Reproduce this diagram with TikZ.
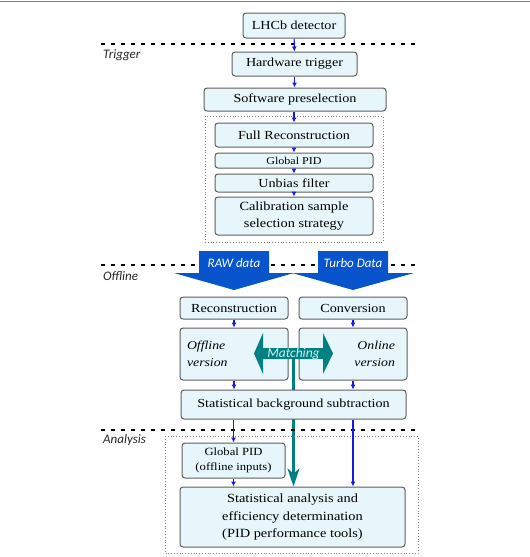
\documentclass[tikz,border=0pt]{standalone}
\usepackage{fontspec}
\setmainfont[FakeStretch=1.15]{Liberation Serif}
\newfontfamily\labfont{Carlito}
\usetikzlibrary{arrows.meta,calc}
\definecolor{boxfill}{RGB}{230,246,251}
\definecolor{bord}{RGB}{95,95,95}
\definecolor{arrblue}{RGB}{25,25,230}
\definecolor{bigblue}{RGB}{8,84,204}
\definecolor{tealc}{RGB}{0,128,128}
\definecolor{matchtxt}{RGB}{205,240,240}
\pgfdeclarelayer{bg}
\pgfsetlayers{bg,main}
\tikzset{
  box/.style={draw=bord, fill=boxfill, rounded corners=3pt, line width=1pt, inner sep=0pt, align=center, font=\fontsize{12.3}{16}\selectfont},
  barrow/.style={draw=arrblue, line width=1.1pt, -{Latex[length=5pt,width=5pt]}},
  sep/.style={line width=2pt, dash pattern=on 4pt off 6pt, black},
  dotbox/.style={draw=gray, line width=0.8pt, dash pattern=on 0.8pt off 2pt},
  seclabel/.style={anchor=west, text=black!85, font=\labfont\itshape\fontsize{13}{15}\selectfont, inner sep=0pt},
  arrtext/.style={text=white, font=\labfont\itshape\fontsize{13}{15}\selectfont, inner sep=0pt},
}
\begin{document}
\begin{tikzpicture}[x=1pt,y=-1pt]
\useasboundingbox (0,0) rectangle (530,557);
\begin{pgfonlayer}{bg}
\fill[white] (0,0) rectangle (530,557);
\end{pgfonlayer}
\draw[gray, line width=1.2pt] (0,1.5) -- (530,1.5);

% separators
\draw[sep] (101,44) -- (420,44);
\draw[sep] (101,265) -- (420,265);
\draw[sep] (101,430) -- (420,430);
\node[seclabel] (ltrig) at (103,55) {Trigger};
\node[seclabel] (loff) at (103,276) {Offline};
\node[seclabel] (lana) at (103,440) {Analysis};

% dotted groups
\draw[dotbox] (205,116) rectangle (383,242);
\draw[dotbox] (165,436) rectangle (418,553);

% trigger chain
\node[box, minimum width=102pt, minimum height=25pt] (det) at (294,25.5) {LHCb detector};
\node[box, minimum width=125pt, minimum height=24pt] (hw) at (294.5,64) {Hardware trigger};
\node[box, minimum width=182pt, minimum height=23pt] (sw) at (295,99.5) {Software preselection};
\node[box, minimum width=158pt, minimum height=24pt] (fr) at (294,135) {Full Reconstruction};
\node[box, minimum width=158pt, minimum height=15pt, font=\fontsize{10.5}{12}\selectfont] (gpid) at (294,160.5) {Global PID};
\node[box, minimum width=158pt, minimum height=18pt] (ub) at (294,183) {Unbias filter};
\node[box, minimum width=158pt, minimum height=38pt, font=\fontsize{12.5}{17}\selectfont] (cal) at (294,216) {Calibration sample\\selection strategy};

% big arrows
\fill[bigblue] (199,251) -- (269,251) -- (269,273) -- (294,273) -- (234,290) -- (174,273) -- (199,273) -- cycle;
\fill[bigblue] (318,251) -- (388,251) -- (388,273) -- (414,273) -- (353,290) -- (292,273) -- (318,273) -- cycle;
\node[arrtext] (raw) at (234,263) {RAW data};
\node[arrtext] (turbo) at (353,263) {Turbo Data};

% offline
\node[box, minimum width=108pt, minimum height=22pt] (reco) at (234,308) {Reconstruction};
\node[box, minimum width=108pt, minimum height=22pt] (conv) at (353,308) {Conversion};
\node[box, minimum height=52pt, text width=94pt, inner xsep=7pt, align=left, font=\itshape\fontsize{12}{17}\selectfont] (offv) at (234,354) {Offline\\version};
\node[box, minimum height=52pt, text width=84pt, inner xsep=12pt, align=right, font=\itshape\fontsize{12}{17}\selectfont] (onv) at (353,354) {Online\\version};

% analysis
\node[box, minimum width=103pt, minimum height=35pt, font=\fontsize{11}{15}\selectfont] (gp2) at (233.5,460.5) {Global PID\\(offline inputs)};
\node[box, minimum width=225pt, minimum height=60pt, font=\fontsize{12.5}{17.5}\selectfont] (sa) at (292.5,517) {Statistical analysis and\\efficiency determination\\(PID performance tools)};

% matching
\coordinate (mc) at (293.5,353.5);
\begin{pgfonlayer}{bg}
\draw[tealc, line width=2.7pt, -{Stealth[length=18pt,width=12pt,inset=5pt]}] (mc) -- (mc |- sa.north);
\end{pgfonlayer}
\fill[tealc] (254,353.5) -- (263,333) -- (263,348) -- (323,348) -- (323,333) -- (333,353.5) -- (323,374) -- (323,359) -- (263,359) -- (263,374) -- cycle;
\node[text=matchtxt, font=\labfont\itshape\fontsize{13.5}{15}\selectfont, inner sep=0pt] (match) at (mc) {Matching};

\node[box, minimum width=225pt, minimum height=29pt] (sbs) at (293.5,404.5) {Statistical background subtraction};

% blue connectors
\draw[barrow] (det) -- (hw);
\draw[barrow] (hw) -- (sw.north -| hw);
\draw[barrow] (sw.south -| fr) -- (fr);
\draw[barrow] (fr) -- (gpid);
\draw[barrow] (gpid) -- (ub);
\draw[barrow] (ub) -- (cal);
\draw[barrow] (reco) -- (offv);
\draw[barrow] (conv) -- (onv);
\draw[barrow] (offv.south) -- (offv.south |- sbs.north);
\draw[barrow] (onv.south) -- (onv.south |- sbs.north);
\draw[barrow] (sbs.south -| gp2) -- (gp2.north);
\draw[barrow] (gp2.south) -- (gp2.south |- sa.north);
\draw[barrow] (sbs.south -| onv) -- (sa.north -| onv);
\end{tikzpicture}
\end{document}
